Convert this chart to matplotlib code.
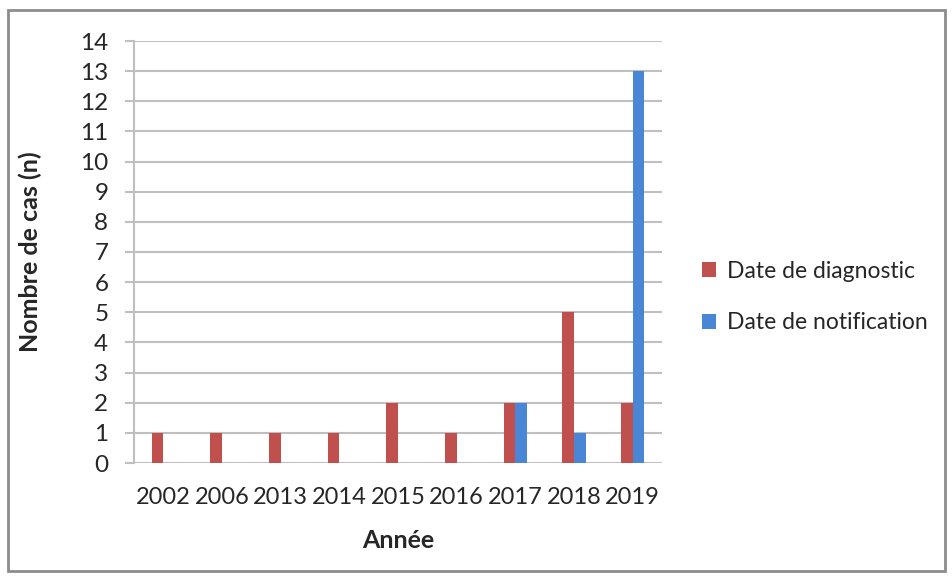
import matplotlib
matplotlib.use("Agg")
import matplotlib.pyplot as plt
import numpy as np
from matplotlib.patches import Rectangle

plt.rcParams['font.family'] = ['Lato', 'DejaVu Sans']

years = ["2002", "2006", "2013", "2014", "2015", "2016", "2017", "2018", "2019"]
diagnostic = [1, 1, 1, 1, 2, 1, 2, 5, 2]
notification = [0, 0, 0, 0, 0, 0, 2, 1, 13]

red = "#C0504D"
blue = "#4A86D6"
grid_col = "#BFBFBF"
text_col = "#262626"

fig = plt.figure(figsize=(9.52, 5.76), dpi=100)
ax = fig.add_axes([134/952, 1-463/576, (662-134)/952, (463-41)/576])

x = np.arange(len(years))
w = 0.2
ax.bar(x - w/2, diagnostic, w, color=red, label="Date de diagnostic", zorder=3)
ax.bar(x + w/2, notification, w, color=blue, label="Date de notification", zorder=3)

ax.set_xlim(-0.5, len(years) - 0.5)
ax.set_ylim(0, 14)
ax.set_yticks(range(0, 15))
ax.set_xticks(x)
ax.set_xticklabels(years)
ax.yaxis.grid(True, color=grid_col, linewidth=1.5, zorder=0)
for s in ["top", "right", "bottom"]:
    ax.spines[s].set_visible(False)
ax.spines["left"].set_color(grid_col)
ax.spines["left"].set_linewidth(1.5)
ax.tick_params(axis="y", length=6.5, width=1.5, color=grid_col, labelsize=17.5,
               labelcolor=text_col, pad=12)
ax.tick_params(axis="x", length=0, labelsize=17, labelcolor=text_col, pad=17)

ax.set_xlabel("Année", fontsize=18, fontweight="bold", color=text_col)
ax.set_ylabel("Nombre de cas (n)", fontsize=18, fontweight="bold", color=text_col)
ax.xaxis.set_label_coords(0.5, (463-540)/422)
ax.xaxis.label.set_va("center")
ax.yaxis.set_label_coords((30-134)/528, 0.5)
ax.yaxis.label.set_va("center")

fig.legend(loc="center left", bbox_to_anchor=(702/952, 1-297/576), frameon=False,
           fontsize=16.5, handlelength=0.6, handleheight=0.6, handletextpad=0.5,
           labelspacing=1.35, borderpad=0, borderaxespad=0, labelcolor=text_col)

fig.patches.append(Rectangle((8/952, 1-571/576), (945-8)/952, (571-10)/576,
                             transform=fig.transFigure, fill=False,
                             edgecolor="#8C8C8C", linewidth=2))

fig.savefig("out.png", dpi=100)
